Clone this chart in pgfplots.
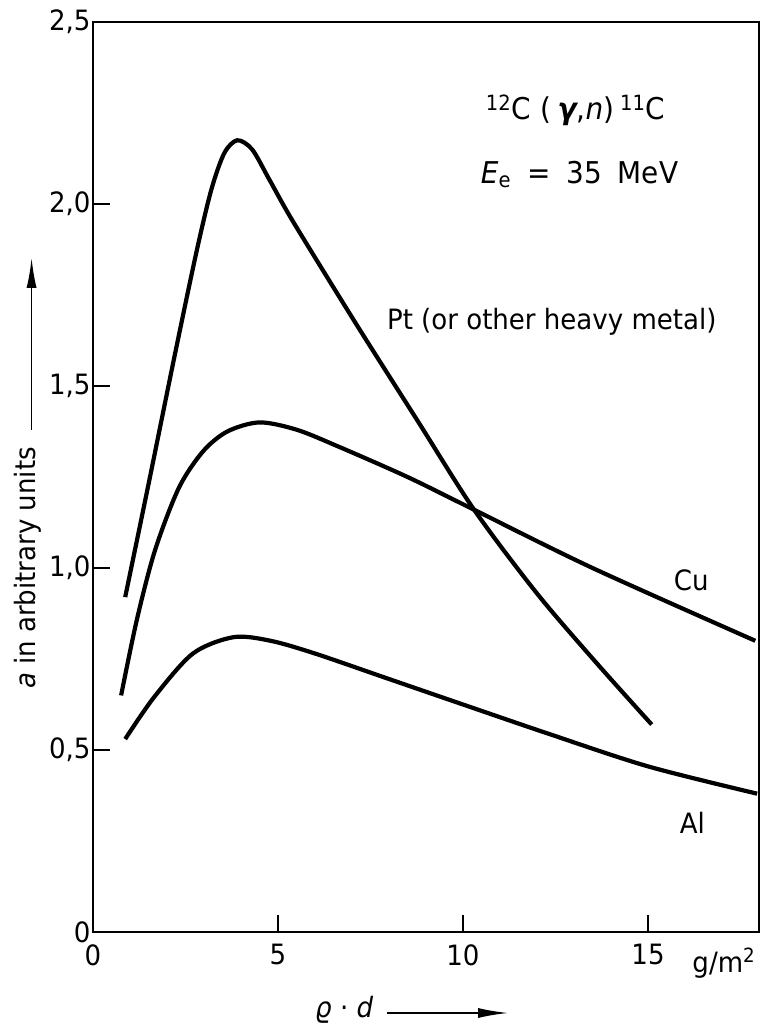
\documentclass[border=0pt]{standalone}
\usepackage{fontspec}
\setmainfont{DejaVu Sans}[FakeStretch=0.93]
\usepackage{pgfplots}
\pgfplotsset{compat=1.18}
\usetikzlibrary{arrows.meta}
\begin{document}
\begin{tikzpicture}
\useasboundingbox (-93pt,-95pt) rectangle (679pt,932pt);
\begin{axis}[
  at={(0pt,0pt)}, anchor=south west,
  scale only axis, width=666pt, height=910pt,
  xmin=0, xmax=18, ymin=0, ymax=2.5,
  clip=false,
  axis line style={line width=2.6pt, black},
  tick style={line width=2.2pt, black},
  major tick length=17pt, tick align=inside,
  xtick pos=bottom, ytick pos=left,
  xtick={0,5,10,15}, xticklabels={0,5,10,15},
  ytick={0,0.5,1,1.5,2,2.5},
  yticklabels={0,{0,5},{1,0},{1,5},{2,0},{2,5}},
  /pgf/number format/assume math mode=true,
  tick label style={font=\fontsize{28}{33}\selectfont},
  xticklabel style={yshift=-9pt},
  yticklabel style={xshift=1pt},
]
% Pt (or other heavy metal)
\addplot[line width=4.2pt, smooth, tension=0.5] coordinates {
(0.87,0.92) (1.5,1.23) (2.2,1.58) (2.8,1.87) (3.2,2.04) (3.55,2.14) (3.9,2.175)
(4.3,2.15) (4.75,2.07) (5.3,1.97) (6.2,1.82) (7.3,1.64) (8.8,1.40) (10.3,1.16)
(12.0,0.93) (13.6,0.74) (15.1,0.57)};
% Cu
\addplot[line width=4.2pt, smooth, tension=0.5] coordinates {
(0.76,0.65) (1.19,0.86) (1.68,1.05) (2.32,1.22) (2.97,1.32) (3.63,1.375) (4.5,1.40)
(5.5,1.38) (6.6,1.335) (8.5,1.25) (10.3,1.16) (13.5,1.0) (17.9,0.80)};
% Al
\addplot[line width=4.2pt, smooth, tension=0.5] coordinates {
(0.87,0.53) (1.65,0.645) (2.7,0.765) (3.8,0.81) (4.8,0.80) (6.0,0.765)
(8.0,0.695) (10.0,0.625) (12.3,0.545) (15,0.455) (17.95,0.38)};
\node[font=\fontsize{30}{36}\selectfont] at (axis cs:13.04,2.258)
  {\textsuperscript{12}C\hspace{10pt}(\hspace{6pt}{\bfseries\itshape γ},\textit{n})\hspace{6pt}\textsuperscript{11}C};
\node[font=\fontsize{30}{36}\selectfont] at (axis cs:13.15,2.08)
  {\textit{E}\textsubscript{e}\hspace{16pt}=\hspace{16pt}35\hspace{16pt}MeV};
\node[font=\fontsize{28}{33}\selectfont] at (axis cs:12.4,1.676) {Pt (or other heavy metal)};
\node[font=\fontsize{28}{33}\selectfont] at (axis cs:16.17,0.965) {Cu};
\node[font=\fontsize{28}{33}\selectfont] at (axis cs:16.2,0.30) {Al};
\node[font=\fontsize{28}{33}\selectfont, anchor=base] at (axis cs:17.05,0) [yshift=-40pt] {g/m\textsuperscript{2}};
\node[font=\fontsize{28}{33}\selectfont, rotate=90] at (axis cs:-1.77,1.0) {\textit{a} in arbitrary units};
\draw[line width=1.8pt, -{Latex[length=30pt,width=10pt]}] (axis cs:-1.66,1.38) -- (axis cs:-1.66,1.852);
\node[font=\fontsize{28}{33}\selectfont] at (axis cs:6.79,-0.214) {\textit{ϱ} · \textit{d}};
\draw[line width=1.8pt, -{Latex[length=30pt,width=10pt]}] (axis cs:7.95,-0.2225) -- (axis cs:11.22,-0.2225);
\end{axis}
\end{tikzpicture}
\end{document}
